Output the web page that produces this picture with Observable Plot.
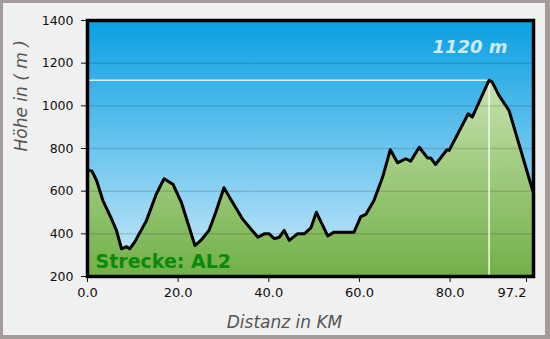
<!DOCTYPE html>
<html><head><meta charset="utf-8">
<script src="https://cdn.jsdelivr.net/npm/d3@7"></script>
<script src="https://cdn.jsdelivr.net/npm/@observablehq/plot@0.6"></script>
<style>
html,body{margin:0;padding:0;background:#fff;}
#wrap{position:relative;width:550px;height:339px;background:#a69b9b;overflow:hidden;}
#panel{position:absolute;left:3px;top:3px;width:542px;height:332px;background:#f0f0f0;}
#wrap svg{position:absolute;left:0;top:0;}
</style></head><body>
<div id="wrap"><div id="panel"></div></div>
<script>
// Elevation profile
const distanceKm = [0, 1.0, 2.0, 3.4, 5.3, 6.4, 7.5, 8.6, 9.3, 10.4, 13.0, 15.2, 16.9, 18.9, 20.7, 23.7, 25.0, 26.8, 28.3, 30.1, 32.0, 34.2, 36.0, 37.6, 39.0, 40.1, 41.2, 42.3, 43.4, 44.5, 46.3, 47.8, 49.3, 50.5, 53.0, 54.4, 58.8, 60.3, 61.4, 63.2, 65.1, 66.8, 68.4, 70.2, 71.3, 73.2, 75.0, 75.7, 76.8, 79.3, 79.8, 84.0, 84.9, 88.6, 89.3, 90.8, 93.0, 98.4];
const elevationM = [700, 694, 650, 556, 470, 415, 330, 340, 330, 361, 462, 588, 658, 631, 548, 345, 369, 416, 501, 616, 548, 470, 424, 384, 400, 400, 377, 384, 416, 369, 400, 400, 428, 501, 390, 408, 408, 481, 491, 556, 665, 794, 733, 752, 741, 806, 756, 756, 725, 794, 791, 963, 947, 1120, 1111, 1048, 978, 590];
const yTicks = [200, 400, 600, 800, 1000, 1200, 1400];
const xTicks = [0, 20, 40, 60, 80];
const xEnd = 98.4;
const totalKm = 97.2;
const routeName = "Strecke: AL2";
const xTitle = "Distanz in KM";
const yTitle = "Höhe in ( m )";

const profile = distanceKm.map((d, i) => ({km: d, m: elevationM[i]}));
const peak = profile[d3.maxIndex(elevationM)];
const yMin = yTicks[0];

const W = 550, H = 339, mL = 87, mR = 17, mT = 20, mB = 63;

const chart = Plot.plot({
  width: W, height: H,
  marginLeft: mL, marginRight: mR, marginTop: mT, marginBottom: mB,
  style: {fontFamily: "DejaVu Sans, Verdana, sans-serif", fontSize: "12.5px", background: "transparent", color: "#111"},
  x: {domain: [0, xEnd]},
  y: {domain: [yMin, yTicks[yTicks.length - 1]]},
  marks: [
    Plot.frame({fill: "url(#skyGrad)"}),
    Plot.areaY(profile, {x: "km", y1: yMin, y2: "m", fill: "url(#greenGrad)"}),
    Plot.gridY(yTicks.slice(1, -1), {stroke: "#000", strokeOpacity: 0.13, strokeWidth: 1.5}),
    Plot.ruleY([peak], {y: "m", x1: 0, x2: "km", stroke: "#dcf1fb", strokeWidth: 1.5}),
    Plot.ruleX([peak], {x: "km", y1: yMin, y2: "m", stroke: "#f4faee", strokeWidth: 1.5}),
    Plot.lineY(profile, {x: "km", y: "m", stroke: "#000", strokeWidth: 3, strokeLinejoin: "round"}),
    Plot.text([peak], {x: "km", frameAnchor: "top", text: d => `${d.m} m`, lineAnchor: "top", textAnchor: "end", dx: 18.5, dy: 20, fontWeight: "bold", fontStyle: "italic", fontSize: 18, fill: "#cde8f7"}),
    Plot.text([routeName], {frameAnchor: "bottom-left", textAnchor: "start", lineAnchor: "bottom", dx: 8, dy: -9, fontWeight: "bold", fontSize: 19, fill: "#0a8a0a"}),
    Plot.axisY(yTicks, {tickSize: 6, tickPadding: 8, fontSize: 12.5, tickFormat: d => String(d), label: null}),
    Plot.axisX(xTicks, {tickSize: 6, tickPadding: 5, fontSize: 13, tickFormat: d => d.toFixed(1), label: null}),
    Plot.axisX([xEnd], {tickSize: 6, tickPadding: 5, fontSize: 13, tickFormat: () => totalKm.toFixed(1), textAnchor: "end", dx: -7, label: null}),
    Plot.text([yTitle], {frameAnchor: "left", rotate: -90, dx: -66, dy: 3, fontStyle: "italic", fontSize: 17, fill: "#555"}),
    Plot.text([xTitle], {frameAnchor: "bottom", lineAnchor: "bottom", dx: -26, dy: 51, fontStyle: "italic", fontSize: 17, fill: "#555"}),
    Plot.frame({stroke: "#000", strokeWidth: 3.5})
  ]
});

const defs = d3.select(chart).insert("defs", ":first-child");
const sky = defs.append("linearGradient").attr("id", "skyGrad")
  .attr("gradientUnits", "userSpaceOnUse").attr("x1", 0).attr("x2", 0).attr("y1", mT).attr("y2", H - mB);
sky.append("stop").attr("offset", 0).attr("stop-color", "#09a0e2");
sky.append("stop").attr("offset", 1).attr("stop-color", "#cdeafa");
const green = defs.append("linearGradient").attr("id", "greenGrad")
  .attr("gradientUnits", "userSpaceOnUse").attr("x1", 0).attr("x2", 0).attr("y1", mT).attr("y2", H - mB);
green.append("stop").attr("offset", 0).attr("stop-color", "#e2f1cf");
green.append("stop").attr("offset", 1).attr("stop-color", "#72b048");

document.getElementById("wrap").appendChild(chart);
</script>
</body></html>
